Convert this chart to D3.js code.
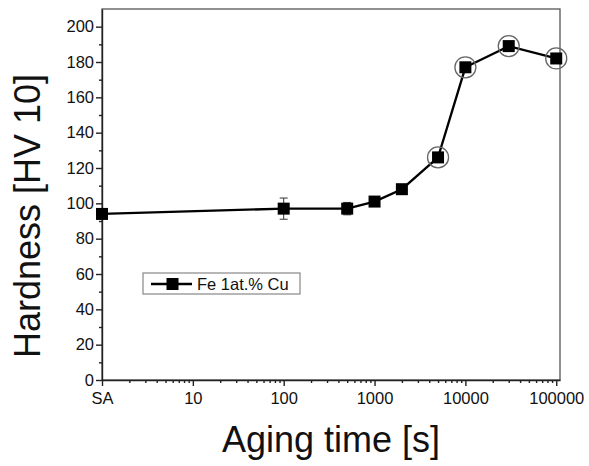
<!DOCTYPE html>
<html>
<head>
<meta charset="utf-8">
<script src="https://cdn.jsdelivr.net/npm/d3@7"></script>
<style>
  body { margin: 0; background: #fff; }
  text { font-family: "Liberation Sans", Arial, sans-serif; fill: #111; }
</style>
</head>
<body>
<svg width="589" height="466"></svg>
<script>
// aging time in seconds (1 = "SA", solution annealed)
var times = [1, 100, 500, 1000, 2000, 5000, 10000, 30000, 100000];
var hardness = [94, 97, 97, 101, 108, 126, 177, 189, 182];
var errors = [2, 6, 3.5, 2, 2, 2, 2, 2.5, 2];
var circled = [false, false, false, false, false, true, true, true, true];
var xTicks = [1, 10, 100, 1000, 10000, 100000];
var xTickLabels = ["SA", "10", "100", "1000", "10000", "100000"];
var yTicks = [0, 20, 40, 60, 80, 100, 120, 140, 160, 180, 200];
var seriesName = "Fe 1at.% Cu";

var svg = d3.select("svg"),
	plotL = 102, plotR = 560, plotT = 9, plotB = 380;

var xScale = d3.scaleLog().domain([1, 110000]).range([plotL, plotR]),
	yScale = d3.scaleLinear().domain([0, 210]).range([plotB, plotT]);

// frame (top + right)
svg.append("rect")
	.attr("x", plotL).attr("y", plotT)
	.attr("width", plotR - plotL).attr("height", plotB - plotT)
	.attr("fill", "none").attr("stroke", "#555").attr("stroke-width", 1.3);

// minor ticks
var xMinor = [];
[1, 10, 100, 1000, 10000].forEach(function(d) {
	for (var k = 2; k < 10; k++) xMinor.push(d * k);
});
svg.append("g")
	.attr("transform", "translate(0," + plotB + ")")
	.call(d3.axisBottom(xScale).tickValues(xMinor).tickSize(3).tickFormat(""))
	.call(g => g.select(".domain").remove());

svg.append("g")
	.attr("transform", "translate(" + plotL + ",0)")
	.call(d3.axisLeft(yScale).tickValues(d3.range(10, 210, 20)).tickSize(3).tickFormat(""))
	.call(g => g.select(".domain").remove());

// major axes
var xAxis = svg.append("g")
	.attr("transform", "translate(0," + plotB + ")")
	.call(d3.axisBottom(xScale).tickValues(xTicks).tickSize(6).tickSizeOuter(0)
		.tickFormat((d, i) => xTickLabels[i]));
xAxis.selectAll("text").style("font-size", "16.5px").attr("dy", "0.9em");

var yAxis = svg.append("g")
	.attr("transform", "translate(" + plotL + ",0)")
	.call(d3.axisLeft(yScale).tickValues(yTicks).tickSize(6).tickSizeOuter(0));
yAxis.selectAll("text").style("font-size", "16.5px").attr("x", -8);

svg.selectAll(".domain, .tick line").attr("stroke", "#222").attr("stroke-width", 1.4);

// axis titles
svg.append("text")
	.attr("transform", "translate(40,216) rotate(-90)")
	.attr("text-anchor", "middle")
	.style("font-size", "36px")
	.text("Hardness [HV 10]");

svg.append("text")
	.attr("x", 331).attr("y", 452)
	.attr("text-anchor", "middle")
	.style("font-size", "36px")
	.text("Aging time [s]");

// data
var data = times.map((t, i) => ({t: t, h: hardness[i], e: errors[i], c: circled[i]}));

svg.append("path")
	.datum(data)
	.attr("fill", "none").attr("stroke", "#000").attr("stroke-width", 2.3)
	.attr("d", d3.line().x(d => xScale(d.t)).y(d => yScale(d.h)));

var pts = svg.selectAll(".pt").data(data).enter().append("g").attr("class", "pt");

pts.append("line")
	.attr("x1", d => xScale(d.t)).attr("x2", d => xScale(d.t))
	.attr("y1", d => yScale(d.h - d.e)).attr("y2", d => yScale(d.h + d.e))
	.attr("stroke", "#333").attr("stroke-width", 1);
pts.selectAll(".cap").data(d => [[d.t, d.h - d.e], [d.t, d.h + d.e]]).enter().append("line")
	.attr("x1", d => xScale(d[0]) - 4).attr("x2", d => xScale(d[0]) + 4)
	.attr("y1", d => yScale(d[1])).attr("y2", d => yScale(d[1]))
	.attr("stroke", "#333").attr("stroke-width", 1);

pts.filter(d => d.c).append("circle")
	.attr("cx", d => xScale(d.t)).attr("cy", d => yScale(d.h))
	.attr("r", 10.5)
	.attr("fill", "none").attr("stroke", "#666").attr("stroke-width", 1.3);

pts.append("rect")
	.attr("x", d => xScale(d.t) - 6).attr("y", d => yScale(d.h) - 6)
	.attr("width", 12).attr("height", 12)
	.attr("fill", "#000");

// legend
var lg = svg.append("g").attr("transform", "translate(143,273)");
lg.append("rect").attr("width", 157).attr("height", 21)
	.attr("fill", "#fff").attr("stroke", "#888").attr("stroke-width", 1.2);
lg.append("line").attr("x1", 8).attr("x2", 49).attr("y1", 11).attr("y2", 11)
	.attr("stroke", "#000").attr("stroke-width", 2.3);
lg.append("rect").attr("x", 23.5).attr("y", 5).attr("width", 12).attr("height", 12).attr("fill", "#000");
lg.append("text").attr("x", 54).attr("y", 17).style("font-size", "16.5px").text(seriesName);
</script>
</body>
</html>
